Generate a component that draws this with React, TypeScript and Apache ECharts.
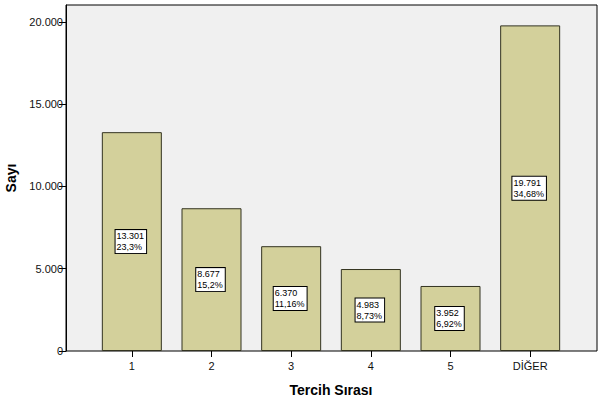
import React, { useEffect, useRef } from "react";
import * as echarts from "echarts";

const categories = ["1", "2", "3", "4", "5", "DİĞER"];
const counts = [13301, 8677, 6370, 4983, 3952, 19791];
const countLabels = ["13.301", "8.677", "6.370", "4.983", "3.952", "19.791"];
const percentLabels = ["23,3%", "15,2%", "11,16%", "8,73%", "6,92%", "34,68%"];
const yTicks = [0, 5000, 10000, 15000, 20000];

const Y_MAX = 21030;

function fmt(v: number): string {
  return String(v).replace(/\B(?=(\d{3})+(?!\d))/g, ".");
}

export default function App() {
  const ref = useRef<HTMLDivElement>(null);
  useEffect(() => {
    if (!ref.current) return;
    const chart = echarts.init(ref.current, null, { renderer: "svg" });
    const font = "Arial, 'Liberation Sans', sans-serif";
    const canvas = document.createElement("canvas");
    const ctx = canvas.getContext("2d")!;
    ctx.font = `9px ${font}`;
    const padL = 1, padR = 2;
    const barData = counts.map((v, i) => {
      const w = Math.max(ctx.measureText(countLabels[i]).width, ctx.measureText(percentLabels[i]).width);
      const boxW = w + padL + padR + 2;
      return { value: v, label: { offset: [-boxW / 2, 0] } };
    });
    chart.setOption({
      animation: false,
      backgroundColor: "#ffffff",
      grid: [
        {
          left: 66, right: 4, top: 5, bottom: 51,
          show: true, backgroundColor: "#f0f0f0", borderColor: "#000", borderWidth: 1,
          outerBoundsMode: "none", containLabel: false,
        },
        { left: 92, right: 31, top: 5, bottom: 51, outerBoundsMode: "none", containLabel: false },
      ],
      xAxis: [
        { gridIndex: 0, type: "value", show: false, min: 0, max: 1 },
        {
          gridIndex: 1,
          type: "category",
          data: categories,
          axisLine: { show: false },
          axisTick: { show: true, alignWithLabel: true, length: 6, lineStyle: { color: "#000" } },
          axisLabel: { color: "#111", fontSize: 11, fontFamily: font, margin: 9 },
          name: "Tercih Sırası",
          nameLocation: "middle",
          nameGap: 32,
          nameTextStyle: { fontSize: 14, fontWeight: "bold", fontFamily: font, color: "#000" },
        },
      ],
      yAxis: [
        {
          gridIndex: 0,
          type: "value",
          min: 0,
          max: Y_MAX,
          interval: 5000,
          splitLine: { show: false },
          axisLine: { show: true, lineStyle: { color: "#000" } },
          axisTick: { show: true, length: 7, lineStyle: { color: "#000" } },
          axisLabel: {
            color: "#111", fontSize: 11, fontFamily: font, margin: 3,
            formatter: (v: number) => (yTicks.includes(v) ? fmt(v) : ""),
            showMaxLabel: false,
          },
          name: "Sayı",
          nameLocation: "middle",
          nameGap: 44,
          nameTextStyle: { fontSize: 14, fontWeight: "bold", fontFamily: font, color: "#000" },
        },
        { gridIndex: 1, type: "value", min: 0, max: Y_MAX, show: false },
      ],
      series: [
        {
          type: "bar",
          xAxisIndex: 1,
          yAxisIndex: 1,
          data: barData,
          barWidth: 60,
          itemStyle: { color: "#d3d09b", borderColor: "#333320", borderWidth: 1 },
          label: {
            show: true,
            position: "inside",
            formatter: (p: any) => `${countLabels[p.dataIndex]}\n${percentLabels[p.dataIndex]}`,
            color: "#000",
            fontSize: 9,
            fontFamily: font,
            lineHeight: 11,
            align: "left",
            backgroundColor: "#fff",
            borderColor: "#000",
            borderWidth: 1,
            padding: [1, padR, 0, padL],
          },
        },
      ],
    });
    return () => chart.dispose();
  }, []);
  return <div ref={ref} style={{ width: 601, height: 402, position: "absolute", left: 0, top: 0 }} />;
}
